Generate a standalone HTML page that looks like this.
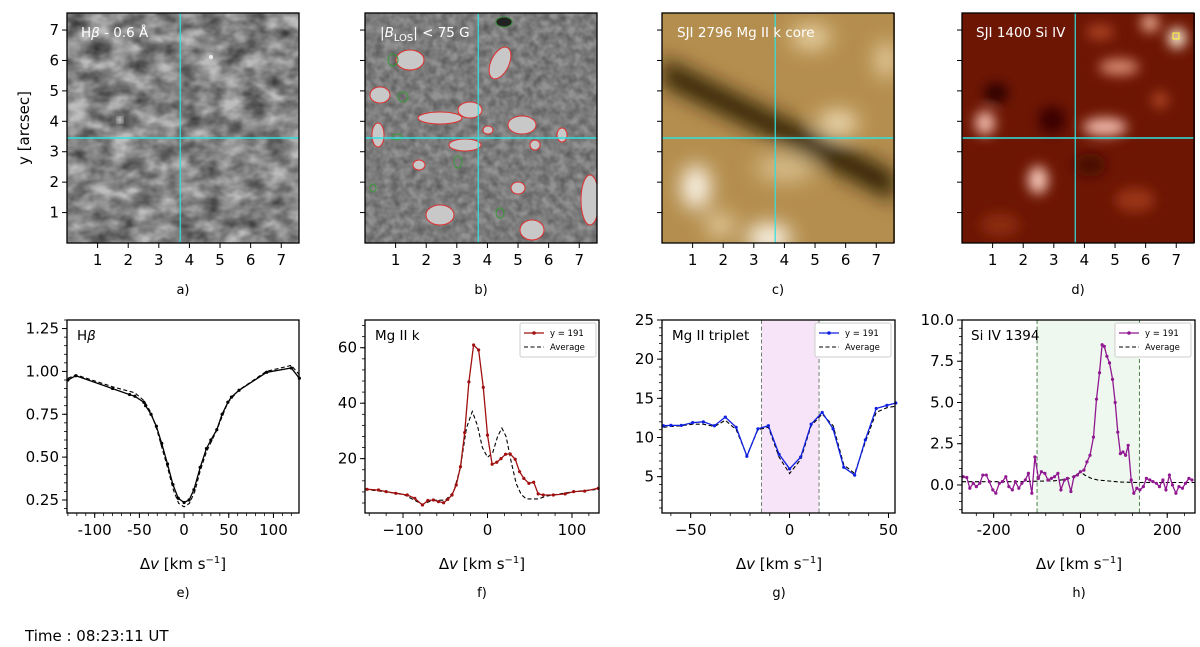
<!DOCTYPE html>
<html><head><meta charset="utf-8">
<style>
html,body{margin:0;padding:0;background:#fff;}
svg{display:block;font-family:"DejaVu Sans","Liberation Sans",sans-serif;}
</style></head>
<body>
<svg id="fig" width="1200" height="647" viewBox="0 0 1200 647" xmlns="http://www.w3.org/2000/svg">
<defs>
<filter id="fa" x="0" y="0" width="1" height="1">
<feTurbulence type="fractalNoise" baseFrequency="0.045 0.07" numOctaves="3" seed="4"/>
<feColorMatrix type="matrix" values="0 0 0 0 0  0 0 0 0 0  0 0 0 0 0  1.1 0 0 0 -0.25"/>
<feGaussianBlur stdDeviation="0.8"/>
</filter>
<filter id="fb" x="0" y="0" width="1" height="1">
<feTurbulence type="fractalNoise" baseFrequency="0.12" numOctaves="2" seed="7"/>
<feColorMatrix type="matrix" values="0 0 0 0 0  0 0 0 0 0  0 0 0 0 0  0.6 0 0 0 -0.15"/>
</filter>
<filter id="blur6"><feGaussianBlur stdDeviation="6"/></filter>
<filter id="blur10"><feGaussianBlur stdDeviation="10"/></filter>
<filter id="blur3"><feGaussianBlur stdDeviation="2.5"/></filter>
<clipPath id="ca"><rect x="67" y="13" width="232" height="230"/></clipPath>
<clipPath id="cb"><rect x="365" y="13" width="232" height="230"/></clipPath>
<clipPath id="cc"><rect x="662" y="13" width="233" height="230"/></clipPath>
<clipPath id="cd"><rect x="962" y="13" width="233" height="230"/></clipPath>
</defs>

<!-- panel a image -->
<g clip-path="url(#ca)">
<rect x="67" y="13" width="232" height="230" fill="#bdbdbd"/>
<rect x="67" y="13" width="232" height="230" filter="url(#fa)" fill="#000"/>
<circle cx="120" cy="120" r="3" fill="#fff" filter="url(#blur3)"/>
<circle cx="211" cy="57" r="2" fill="#eee"/>
</g>
<!-- panel b image -->
<g clip-path="url(#cb)">
<rect x="365" y="13" width="232" height="230" fill="#929292"/>
<rect x="365" y="13" width="232" height="230" filter="url(#fb)" fill="#555"/>
<g fill="#c8c8c8" stroke="#e03030" stroke-width="1">
<ellipse cx="410" cy="60" rx="14" ry="10"/>
<ellipse cx="500" cy="63" rx="9" ry="17" transform="rotate(25 500 63)"/>
<ellipse cx="440" cy="118" rx="22" ry="6"/>
<ellipse cx="470" cy="110" rx="12" ry="8"/>
<ellipse cx="465" cy="145" rx="16" ry="6"/>
<ellipse cx="378" cy="135" rx="6" ry="12"/>
<ellipse cx="380" cy="95" rx="10" ry="8"/>
<ellipse cx="522" cy="125" rx="14" ry="9"/>
<ellipse cx="419" cy="165" rx="6" ry="5"/>
<ellipse cx="518" cy="188" rx="7" ry="6"/>
<ellipse cx="440" cy="215" rx="14" ry="10"/>
<ellipse cx="532" cy="230" rx="12" ry="10"/>
<ellipse cx="590" cy="200" rx="9" ry="25"/>
<ellipse cx="488" cy="130" rx="5" ry="4"/>
<ellipse cx="535" cy="145" rx="5" ry="5"/>
<ellipse cx="562" cy="135" rx="5" ry="7"/>
</g>
<ellipse cx="504" cy="22" rx="8" ry="5" fill="#222" stroke="#3a8a3a"/>
<g fill="none" stroke="#3a9a3a" stroke-width="1">
<ellipse cx="393" cy="60" rx="5" ry="6"/><ellipse cx="403" cy="97" rx="5" ry="5"/>
<ellipse cx="397" cy="137" rx="5" ry="3"/><ellipse cx="458" cy="162" rx="4" ry="6"/>
<ellipse cx="500" cy="213" rx="4" ry="5"/><ellipse cx="373" cy="188" rx="3" ry="4"/>
</g>
</g>
<!-- panel c image -->
<g clip-path="url(#cc)">
<rect x="662" y="13" width="233" height="230" fill="#b48e4e"/>
<g filter="url(#blur10)">
<ellipse cx="696" cy="187" rx="14" ry="22" fill="#fffaf0"/>
<ellipse cx="769" cy="238" rx="22" ry="14" fill="#fffaf0"/>
<ellipse cx="838" cy="123" rx="20" ry="12" fill="#f2dfb8"/>
<ellipse cx="811" cy="37" rx="20" ry="12" fill="#ecd6a8"/>
<ellipse cx="886" cy="60" rx="10" ry="18" fill="#ecd6a8"/>
<ellipse cx="720" cy="225" rx="14" ry="12" fill="#e6cfa0"/>
<ellipse cx="785" cy="168" rx="30" ry="14" fill="#d6bb88"/>
<polygon points="662,58 662,84 780,142 895,202 895,173 780,116" fill="#2a1a04"/>
</g>
</g>
<!-- panel d image -->
<g clip-path="url(#cd)">
<rect x="962" y="13" width="233" height="230" fill="#6e1604"/>
<g filter="url(#blur6)">
<ellipse cx="985" cy="123" rx="10" ry="12" fill="#f0b8a8"/>
<ellipse cx="1038" cy="180" rx="10" ry="14" fill="#f4c4b4"/>
<ellipse cx="1105" cy="127" rx="22" ry="9" fill="#f0b8a8"/>
<ellipse cx="1119" cy="67" rx="20" ry="8" fill="#d88a70"/>
<ellipse cx="1150" cy="23" rx="9" ry="9" fill="#e8a890"/>
<ellipse cx="1177" cy="38" rx="9" ry="10" fill="#fff0d8"/>
<ellipse cx="1100" cy="32" rx="14" ry="8" fill="#a84020"/>
<ellipse cx="996" cy="93" rx="12" ry="10" fill="#2a0400"/>
<ellipse cx="1052" cy="120" rx="14" ry="14" fill="#3a0600"/>
<ellipse cx="1090" cy="165" rx="16" ry="12" fill="#4a0800"/>
<ellipse cx="1135" cy="200" rx="20" ry="12" fill="#9a3418"/>
<ellipse cx="1000" cy="225" rx="20" ry="12" fill="#8a2a10"/>
<ellipse cx="1160" cy="100" rx="8" ry="8" fill="#b04828"/>
</g>
<rect x="1173" y="33" width="6" height="6" fill="none" stroke="#ffff40" stroke-width="1"/>
</g>
<g id="plots"></g>
<text x="25" y="641" font-size="15">Time : 08:23:11 UT</text>
</svg>
<script>
// ---- Hbeta (panel e) ----
const hbX = [-130,-121,-80,-61,-55,-45,-43,-37,-31,-25,-18.5,-12.5,-6.5,0,5.6,11,18,25,30,36.6,42.6,49,53,61.5,92.5,120,129];
const hbY = [0.95,0.975,0.90,0.865,0.855,0.82,0.80,0.75,0.68,0.58,0.46,0.34,0.26,0.235,0.25,0.31,0.44,0.55,0.60,0.66,0.75,0.82,0.85,0.89,0.995,1.02,0.96];
const hbAvgX = [-130,-121,-80,-55,-45,-37,-31,-25,-18,-12,-6,0,6,12,18,25,36,49,61,92,120,129];
const hbAvgY = [0.96,0.98,0.91,0.875,0.83,0.76,0.67,0.56,0.43,0.31,0.23,0.21,0.23,0.30,0.42,0.53,0.65,0.82,0.89,1.0,1.035,0.98];
// ---- Mg II k (panel f) ----
const mgkX = [-142.6,-129,-120,-108.6,-95,-86,-77,-70.6,-64,-58,-52,-47,-42,-37,-32,-27,-22,-16.4,-10.5,-5,0,5.5,11,16,21.4,26.9,32.8,38,43,49,54.7,60,66,78,92,102,115,131];
const mgkY = [8.95,8.7,8.1,7.5,6.9,5.7,3.3,4.9,5.1,4.5,4.1,5.3,6.9,10.5,17.1,29.4,47.7,61,59.2,45.7,28.5,18,18.7,20,21.6,21.7,19.8,15.3,12.9,11.1,11.5,7.3,6.9,6.9,7.3,8.1,8.3,9.3];
const mgkAvgX = [-145,-100,-77,-65,-50,-40,-32,-25,-18,-12,-6,0,6,12,17,22,28,34,40,46,60,70,100,132];
const mgkAvgY = [9,7.2,3.5,5,5,8,17,31,37,32,24,20.5,22,28,31,28,19,11,7,5.5,5.5,6.5,8,9];
// ---- Mg II triplet (panel g) ----
const mgtX = [-63.8,-60,-54.7,-49,-43.6,-38,-32.5,-27,-21.6,-16,-10.7,-5.3,0,5.6,10.9,16.5,22,27.4,32.9,38.3,43.8,49.2,53.7];
const mgtY = [11.5,11.55,11.55,11.9,12,11.5,12.6,11.3,7.6,11.1,11.5,7.85,6,7.5,11.7,13.2,11.1,6.2,5.2,9.7,13.7,14.1,14.4];
const mgtAvgY = [11.3,11.4,11.5,11.7,11.7,11.4,12.2,11.0,7.7,11.0,11.3,7.5,5.4,7.2,11.5,13.0,11.5,6.5,5.4,9.4,13.2,13.8,14.0];
// ---- Si IV (panel h) ----
const siX = [-270,-262,-255,-247,-240,-232,-225,-217,-210,-202,-195,-187,-180,-172,-165,-157,-150,-142,-135,-127,-120,-112,-105,-97,-90,-82,-75,-67,-60,-52,-45,-37,-30,-22,-15,-7,0,8,15,22,30,37,44,50,55,61,67,74,80,86,92,98,104,110,117,123,130,137,145,152,160,167,175,182,190,197,205,212,220,227,235,242,250,257];
const siY = [0.5,0.45,-0.2,0.1,-0.1,0.1,0.6,0.6,0.2,-0.3,-0.5,0.1,0.2,0.5,-0.1,-0.3,0.2,-0.2,0.1,0.3,0.7,-0.5,1.7,0.4,0.8,0.7,0.3,0.4,0.5,0.7,-0.3,0.3,0.4,-0.4,0.5,0.6,0.8,0.9,1.4,1.8,2.9,5.2,6.8,8.5,8.4,7.8,7.4,6.4,5,3.2,1.9,2,1.8,2.4,0.3,-0.5,-0.2,-0.3,-0.1,0.4,0.3,0.2,0.1,-0.1,0.3,-0.3,0.6,0,-0.5,-0.1,-0.2,0.1,0.4,0.3];
const siAvgX = [-273,-150,-60,-30,-10,0,10,25,40,60,90,130,264];
const siAvgY = [0.2,0.2,0.25,0.35,0.6,0.8,0.6,0.4,0.3,0.25,0.18,0.15,0.15];
// ---- tick labels ----
const imgTicks = [1,2,3,4,5,6,7];
const hbXTicks = [-100,-50,0,50,100];
const hbYTicks = [0.25,0.5,0.75,1.0,1.25];
const mgkXTicks = [-100,0,100];
const mgkYTicks = [20,40,60];
const mgtXTicks = [-50,0,50];
const mgtYTicks = [5,10,15,20,25];
const siXTicks = [-200,0,200];
const siYTicks = [0,2.5,5,7.5,10];

const NS = 'http://www.w3.org/2000/svg';
const root = document.getElementById('plots');
function mk(tag, attrs, parent, text){
  const e = document.createElementNS(NS, tag);
  for (const k in attrs) e.setAttribute(k, attrs[k]);
  if (text !== undefined) e.textContent = text;
  (parent||root).appendChild(e);
  return e;
}
function axes(o){
  const g = mk('g', {});
  
  
  const sx = v => o.x + (v - o.xr[0]) / (o.xr[1] - o.xr[0]) * o.w;
  const sy = v => o.y + o.h - (v - o.yr[0]) / (o.yr[1] - o.yr[0]) * o.h;
  return {g, sx, sy, o};
}
function frameAndTicks(A){
  const {g, sx, sy, o} = A;
  mk('rect', {x:o.x, y:o.y, width:o.w, height:o.h, fill:'none', stroke:'#000', 'stroke-width':1.3}, g);
  const bot = o.y + o.h;
  if (o.xMinor) for (let v = Math.ceil(o.xr[0]/o.xMinor)*o.xMinor; v <= o.xr[1]; v += o.xMinor){
    mk('line', {x1:sx(v), x2:sx(v), y1:bot, y2:bot+3, stroke:'#000', 'stroke-width':0.8}, g);
  }
  if (o.yMinor) for (let v = Math.ceil(o.yr[0]/o.yMinor)*o.yMinor; v <= o.yr[1]+1e-9; v += o.yMinor){
    mk('line', {x1:o.x, x2:o.x-3, y1:sy(v), y2:sy(v), stroke:'#000', 'stroke-width':0.8}, g);
  }
  o.xt.forEach((v,i) => {
    mk('line', {x1:sx(v), x2:sx(v), y1:bot, y2:bot+5, stroke:'#000', 'stroke-width':1}, g);
    const t = mk('text', {x:sx(v), y:bot+22, 'font-size':15, 'text-anchor':'middle'}, g, o.xl ? o.xl[i] : String(v));
    
    
  });
  o.yt.forEach((v,i) => {
    mk('line', {x1:o.x, x2:o.x-5, y1:sy(v), y2:sy(v), stroke:'#000', 'stroke-width':1}, g);
    if (o.yl) {
      const t = mk('text', {x:o.x-8, y:sy(v)+5, 'font-size':15, 'text-anchor':'end'}, g, o.yl[i]);
      
      
    }
  });
}
function series(A, xs, ys, color, dashed, markers, nm){
  const {g, sx, sy} = A;
  const s = mk('g', {}, g);
  
  
  const d = xs.map((x,i) => (i?'L':'M') + sx(x).toFixed(1) + ' ' + sy(ys[i]).toFixed(1)).join(' ');
  mk('path', {d, fill:'none', stroke:color, 'stroke-width':dashed?1.1:1.3, 'stroke-dasharray':dashed?'4 2.5':'none'}, s);
  if (markers) xs.forEach((x,i) => mk('circle', {cx:sx(x), cy:sy(ys[i]), r:1.6, fill:color}, s));
}
function legend(x, y, color, nm){
  const g = mk('g', {});
  
  
  mk('rect', {x, y, width:76, height:34, fill:'#fff', stroke:'#ccc', rx:2}, g);
  mk('line', {x1:x+4, x2:x+24, y1:y+10, y2:y+10, stroke:color, 'stroke-width':1.3}, g);
  mk('circle', {cx:x+14, cy:y+10, r:1.8, fill:color}, g);
  mk('text', {x:x+30, y:y+13, 'font-size':8.5}, g, 'y = 191');
  mk('line', {x1:x+4, x2:x+24, y1:y+24, y2:y+24, stroke:'#000', 'stroke-width':1.1, 'stroke-dasharray':'4 2.5'}, g);
  mk('text', {x:x+30, y:y+27, 'font-size':8.5}, g, 'Average');
}
function xlabel(cx, letter){
  const t = mk('text', {x:cx, y:569, 'font-size':15, 'text-anchor':'middle'});
  
  
  t.innerHTML = 'Δ<tspan font-style="italic">v</tspan> [km s<tspan dy="-6" font-size="10">−1</tspan><tspan dy="6">]</tspan>';
  const l = mk('text', {x:cx, y:597, 'font-size':13, 'text-anchor':'middle'}, root, letter);
  
  
}
function ptext(x, y, str, col, nm){
  const t = mk('text', {x, y, 'font-size':13.5, fill:col});
  
  
  t.innerHTML = str;
}

// ---- image panels ----
const imgX = [67,365,662,962];
const imgLetters = ['a)','b)','c)','d)'];
imgX.forEach((x,k) => {
  const A = axes({name:'image-axes-' + imgLetters[k].charAt(0), x, y:13, w:232, h:230, xr:[0,7.58], yr:[0,7.56], xt:imgTicks, yt:imgTicks, yl:k===0?imgTicks.map(String):null});
  const {g, sx, sy} = A;
  mk('line', {x1:sx(3.7), x2:sx(3.7), y1:13, y2:243, stroke:'#30e0e0', 'stroke-width':1.2}, g);
  mk('line', {x1:x, x2:x+232, y1:sy(3.45), y2:sy(3.45), stroke:'#30e0e0', 'stroke-width':1.5}, g);
  frameAndTicks(A);
  const l = mk('text', {x:x+116, y:294, 'font-size':13, 'text-anchor':'middle'}, root, imgLetters[k]);
  
  
});
const yl = mk('text', {x:0, y:0, 'font-size':15, 'text-anchor':'middle', transform:'translate(29 128) rotate(-90)'}, root, 'y [arcsec]');


ptext(81, 37, 'H<tspan font-style="italic">β</tspan> - 0.6 Å', '#fff', 'hbeta-image-title');
ptext(380, 37, '|<tspan font-style="italic">B</tspan><tspan font-size="10" dy="4">LOS</tspan><tspan dy="-4">| &lt; 75 G</tspan>', '#fff', 'blos-image-title');
ptext(677, 37, 'SJI 2796 Mg II k core', '#fff', 'sji2796-image-title');
ptext(976, 37, 'SJI 1400 Si IV', '#fff', 'sji1400-image-title');

// ---- panel e ----
let A = axes({name:'hbeta-profile-axes', x:67, y:320, w:232, h:193, xr:[-131,128.6], yr:[0.174,1.30], xt:hbXTicks, yt:hbYTicks, yl:['0.25','0.50','0.75','1.00','1.25'], xMinor:10, yMinor:0.05, xl:['-100','-50','0','50','100']});
series(A, hbAvgX, hbAvgY, '#000', true, false, 'hbeta-average-line');
series(A, hbX, hbY, '#000', false, true, 'hbeta-profile-line');
frameAndTicks(A);
ptext(77, 340, 'H<tspan font-style="italic">β</tspan>', '#000', 'hbeta-plot-title');
xlabel(183, 'e)');

// ---- panel f ----
A = axes({name:'mgk-profile-axes', x:365, y:320, w:234, h:193, xr:[-145,132], yr:[0.4,70], xt:mgkXTicks, yt:mgkYTicks, yl:['20','40','60'], xMinor:20, yMinor:4, xl:['−100','0','100']});
series(A, mgkAvgX, mgkAvgY, '#000', true, false, 'mgk-average-line');
series(A, mgkX, mgkY, '#a01010', false, true, 'mgk-profile-line');
frameAndTicks(A);
ptext(375, 340, 'Mg II k', '#000', 'mgk-plot-title');
legend(520, 323, '#a01010', 'mgk-legend');
xlabel(482, 'f)');

// ---- panel g ----
A = axes({name:'mgtriplet-profile-axes', x:662, y:320, w:233, h:193, xr:[-64.5,53.3], yr:[0.36,25], xt:mgtXTicks, yt:mgtYTicks, yl:['5','10','15','20','25'], xMinor:10, yMinor:1, xl:['−50','0','50']});
mk('rect', {x:A.sx(-14.2), y:320, width:A.sx(14.9)-A.sx(-14.2), height:193, fill:'#f8e4f8'}, A.g);
[-14.2,14.9].forEach(v => mk('line', {x1:A.sx(v), x2:A.sx(v), y1:320, y2:513, stroke:'#708070', 'stroke-width':1, 'stroke-dasharray':'4 2.5'}, A.g));
series(A, mgtX, mgtAvgY, '#000', true, false, 'mgtriplet-average-line');
series(A, mgtX, mgtY, '#1020e0', false, true, 'mgtriplet-profile-line');
frameAndTicks(A);
ptext(672, 340, 'Mg II triplet', '#000', 'mgtriplet-plot-title');
legend(815, 323, '#1020e0', 'mgtriplet-legend');
xlabel(779, 'g)');

// ---- panel h ----
A = axes({name:'siiv-profile-axes', x:962, y:320, w:233, h:193, xr:[-273,264], yr:[-1.7,10], xt:siXTicks, yt:siYTicks, yl:['0.0','2.5','5.0','7.5','10.0'], xMinor:40, yMinor:0.5, xl:['-200','0','200']});
mk('rect', {x:A.sx(-100), y:320, width:A.sx(136)-A.sx(-100), height:193, fill:'#eef8ee'}, A.g);
[-100,136].forEach(v => mk('line', {x1:A.sx(v), x2:A.sx(v), y1:320, y2:513, stroke:'#508050', 'stroke-width':1, 'stroke-dasharray':'4 2.5'}, A.g));
series(A, siAvgX, siAvgY, '#000', true, false, 'siiv-average-line');
series(A, siX, siY, '#901890', false, true, 'siiv-profile-line');
frameAndTicks(A);
ptext(971, 340, 'Si IV 1394', '#000', 'siiv-plot-title');
legend(1115, 323, '#901890', 'siiv-legend');
xlabel(1079, 'h)');
</script>
</body></html>
